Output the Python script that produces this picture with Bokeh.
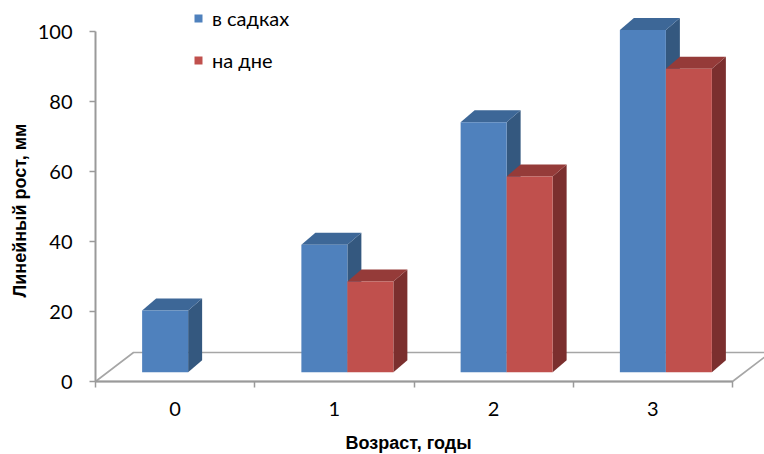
import math
from bokeh.plotting import figure
from bokeh.models import Range1d, FixedTicker, Legend, LegendItem, Label
from bokeh.embed import file_html
from bokeh.resources import INLINE

# ---------------- data ----------------
ages = [0, 1, 2, 3]
age_labels = ["0", "1", "2", "3"]
series_names = ["в садках", "на дне"]
cages_vals = [17.6, 36.4, 71.4, 97.8]      # в садках
bottom_vals = [None, 25.9, 55.9, 86.7]     # на дне
y_ticks = [0, 20, 40, 60, 80, 100]
x_title = "Возраст, годы"
y_title = "Линейный рост, мм"

# ---------------- geometry / style ----------------
W, H = 764, 454
PXX = 159.25          # px per category unit
PXY = 3.5             # px per value unit
AX_X, AX_Y = 95, 381  # pixel position of the axes corner
x0 = -0.5 - AX_X / PXX
x1 = x0 + W / PXX
y0 = -(H - AX_Y) / PXY
y1 = y0 + H / PXY

bar_w = 46 / PXX
dxf, dyf = 13 / PXX, 9.3 / PXY      # depth shift of bar fronts
sx, sy = 14 / PXX, 12 / PXY          # bar depth
fdx, fdy = 38 / PXX, 29 / PXY        # floor depth

colors = {
    "front": ["#4F81BD", "#C0504D"],
    "top": ["#3D6797", "#953B39"],
    "side": ["#34587F", "#7B2F2E"],
}
GRAY = "#9A9A9A"
FONT = "Lato"
TFONT = "Liberation Sans"

p = figure(width=W, height=H, x_range=Range1d(x0, x1), y_range=Range1d(y0, y1),
           output_backend="svg", toolbar_location=None,
           min_border_left=0, min_border_right=0, min_border_top=0, min_border_bottom=0,
           outline_line_color=None, background_fill_color="white")
p.grid.visible = False

# floor
xl, xr = ages[0] - 0.5, ages[-1] + 0.5
p.patch(x=[xl, xl + fdx, xr + fdx, xr], y=[0, fdy, fdy, 0],
        fill_color=None, line_color="#A6A6A6", line_width=1.6)

# axis lines
p.segment(x0=[xl], y0=[y_ticks[0]], x1=[xl], y1=[y_ticks[-1]], line_color=GRAY, line_width=2)
p.segment(x0=[xl], y0=[0], x1=[xr], y1=[0], line_color=GRAY, line_width=2)

# bars
front_renderers = []
for si, vals in enumerate([cages_vals, bottom_vals]):
    L, R, B, T = [], [], [], []
    txs, tys, sxs, sys_ = [], [], [], []
    for a, v in zip(ages, vals):
        if v is None:
            continue
        left = a + dxf - bar_w + si * bar_w
        right = left + bar_w
        bot = dyf
        top = dyf + v
        L.append(left); R.append(right); B.append(bot); T.append(top)
        txs.append([left, left + sx, right + sx, right])
        tys.append([top, top + sy, top + sy, top])
        sxs.append([right, right, right + sx, right + sx])
        sys_.append([bot, top, top + sy, bot + sy])
    p.patches(xs=sxs, ys=sys_, fill_color=colors["side"][si], line_color=None)
    p.patches(xs=txs, ys=tys, fill_color=colors["top"][si], line_color=None)
    r = p.quad(left=L, right=R, bottom=B, top=T, fill_color=colors["front"][si], line_color=None)
    front_renderers.append(r)

# axes (drawn at fixed data locations, inside the full-canvas frame)
yax = p.yaxis[0]
yax.fixed_location = xl
yax.ticker = FixedTicker(ticks=y_ticks)
yax.axis_line_color = None
yax.major_tick_line_color = GRAY
yax.major_tick_line_width = 1.5
yax.major_tick_out = 6
yax.major_tick_in = 0
yax.minor_tick_line_color = None
yax.major_label_standoff = 17
yax.major_label_text_font = FONT
yax.major_label_text_font_size = "20px"
yax.major_label_text_color = "#000000"

xax = p.xaxis[0]
xax.fixed_location = 0
xax.ticker = FixedTicker(ticks=ages, minor_ticks=[a - 0.5 for a in ages] + [ages[-1] + 0.5])
xax.major_label_overrides = {a: lab for a, lab in zip(ages, age_labels)}
xax.axis_line_color = None
xax.major_tick_line_color = None
xax.major_tick_out = 0
xax.major_tick_in = 0
xax.minor_tick_line_color = GRAY
xax.minor_tick_line_width = 1.5
xax.minor_tick_out = 6
xax.minor_tick_in = 0
xax.major_label_standoff = 14
xax.major_label_text_font = FONT
xax.major_label_text_font_size = "20px"
xax.major_label_text_color = "#000000"

# axis titles (screen units from the frame's bottom-left corner = canvas)
p.add_layout(Label(x=345, y=12, x_units="screen", y_units="screen", text=x_title,
                   text_align="left", text_baseline="middle",
                   text_font=TFONT, text_font_size="18px", text_font_style="bold",
                   text_color="#000000"))
p.add_layout(Label(x=19, y=H - 210, x_units="screen", y_units="screen", text=y_title,
                   angle=math.pi / 2, text_align="center", text_baseline="middle",
                   text_font=TFONT, text_font_size="18px", text_font_style="bold",
                   text_color="#000000"))

# legend
legend = Legend(items=[LegendItem(label=n, renderers=[r]) for n, r in zip(series_names, front_renderers)],
                location=(193, H - 72), orientation="vertical",
                glyph_width=10, glyph_height=10, label_standoff=9, spacing=18,
                padding=0, margin=0, border_line_color=None, background_fill_alpha=0,
                label_text_font=FONT, label_text_font_size="20px", label_text_color="#000000")
p.add_layout(legend, "center")

open("out.html", "w").write(file_html(p, INLINE))
